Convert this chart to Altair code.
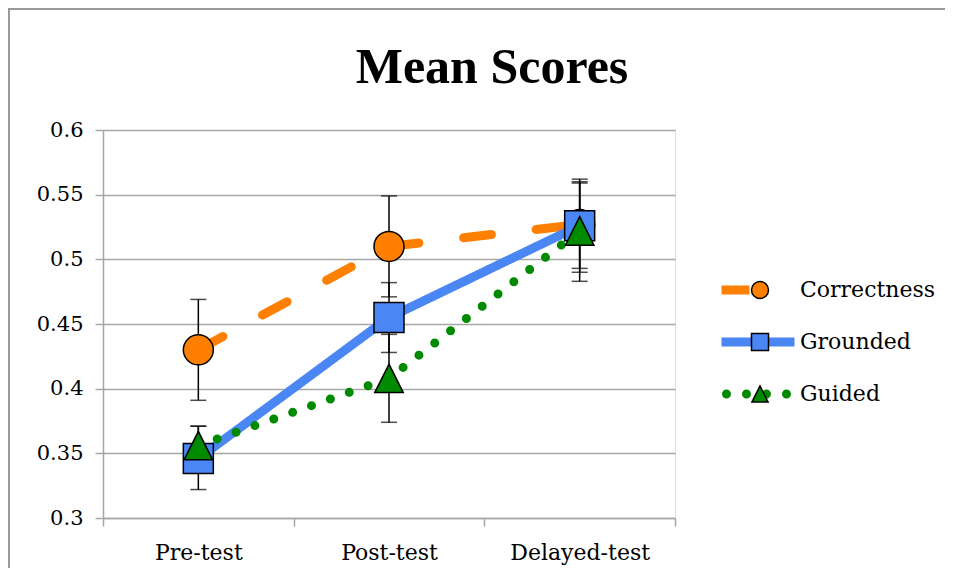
import altair as alt
import pandas as pd

tests = ["Pre-test", "Post-test", "Delayed-test"]
series = ["Correctness", "Grounded", "Guided"]
marker_keys = ["Correctness marker", "Grounded marker", "Guided marker"]
dot_keys = ["Guided dots"]
colors = ["#FF7F00", "#4A86F4", "#008A00"]
TRIANGLE = "M0,-0.95L0.95,0.95L-0.95,0.95Z"
shapes = ["circle", "square", TRIANGLE]
dashes = [[28, 45], [1, 0], [0, 20]]

correctness = [0.430, 0.510, 0.527]
grounded = [0.346, 0.455, 0.526]
guided = [0.356, 0.408, 0.522]

correctness_lo = [0.391, 0.471, 0.493]
correctness_hi = [0.469, 0.549, 0.560]
grounded_lo = [0.322, 0.428, 0.490]
grounded_hi = [0.371, 0.482, 0.562]
guided_lo = [0.341, 0.374, 0.483]
guided_hi = [0.371, 0.442, 0.559]

y_ticks = [0.3, 0.35, 0.4, 0.45, 0.5, 0.55, 0.6]

rows = []
for s, m, vals, lo, hi in [
    ("Correctness", marker_keys[0], correctness, correctness_lo, correctness_hi),
    ("Grounded", marker_keys[1], grounded, grounded_lo, grounded_hi),
    ("Guided", marker_keys[2], guided, guided_lo, guided_hi),
]:
    for t, v, l, h in zip(tests, vals, lo, hi):
        rows.append({"test": t, "series": s, "marker": m, "dots": dot_keys[0],
                     "value": v, "lo": l, "hi": h})
df = pd.DataFrame(rows)

FONT = "DejaVu Serif"
GRAY = "#A6A6A6"

# legend symbol for the dotted line: four round dots in a row
R = 0.1275
DOTS_PATH = " ".join(
    f"M{c + R:.4f},0A{R},{R},0,1,0,{c - R:.4f},0A{R},{R},0,1,0,{c + R:.4f},0Z"
    for c in (-0.85, -0.2833, 0.2833, 0.85)
)

x_enc = alt.X("test:N", sort=tests, scale=alt.Scale(paddingInner=0, paddingOuter=0),
              axis=alt.Axis(title=None, labelAngle=0, tickBand="extent", grid=False,
                            labelFont=FONT, labelFontSize=22, labelColor="black",
                            labelPadding=16, tickSize=8, tickColor=GRAY, tickWidth=1.5,
                            domainColor=GRAY, domainWidth=1.5))
y_scale = alt.Scale(domain=[0.3, 0.6], nice=False, zero=False)
y_axis = alt.Axis(title=None, values=y_ticks, format="~g", grid=True, gridColor=GRAY,
                  gridWidth=1.5, labelFont=FONT, labelFontSize=21, labelColor="black",
                  labelPadding=12, tickSize=8, tickColor=GRAY, tickWidth=1.5,
                  domainColor=GRAY, domainWidth=1.5)

base = alt.Chart(df)
one_row = base.transform_filter("datum.test == 'Pre-test' && datum.series == 'Correctness'")

# decorative outer frame (left and top edges) drawn as thin filled bars
frame_left = one_row.mark_rect(color="#9A9A9A", strokeWidth=0, clip=False).encode(
    x=alt.value(-95), x2=alt.value(-93), y=alt.value(-122), y2=alt.value(470))
frame_top = one_row.mark_rect(color="#9A9A9A", strokeWidth=0, clip=False).encode(
    x=alt.value(-95), x2=alt.value(842), y=alt.value(-122), y2=alt.value(-120))

err = base.mark_rule(color="black", strokeWidth=1.5).encode(
    x=x_enc, y=alt.Y("lo:Q", scale=y_scale, axis=y_axis), y2="hi:Q")
cap_lo = base.mark_tick(color="black", thickness=1.5, size=16).encode(x=x_enc, y=alt.Y("lo:Q", scale=y_scale))
cap_hi = base.mark_tick(color="black", thickness=1.5, size=16).encode(x=x_enc, y=alt.Y("hi:Q", scale=y_scale))

lines = base.mark_line(strokeWidth=9, strokeCap="round").encode(
    x=x_enc,
    y=alt.Y("value:Q", scale=y_scale),
    color=alt.Color("series:N", scale=alt.Scale(domain=series, range=colors),
                    legend=alt.Legend(title=None, orient="none", legendX=614, legendY=134,
                                      symbolType="stroke", symbolSize=5329, symbolStrokeWidth=9,
                                      clipHeight=52, rowPadding=0, padding=0, labelOffset=1,
                                      labelFont=FONT, labelFontSize=22, labelColor="black",
                                      zindex=0)),
    strokeDash=alt.StrokeDash("series:N", scale=alt.Scale(domain=series, range=dashes)),
    detail="series:N",
)

dots_key = base.transform_filter("datum.series == 'Guided' && datum.test == 'Pre-test'").mark_point(
    filled=True, size=0, strokeWidth=0, fill=colors[2], opacity=1
).encode(
    x=x_enc,
    y=alt.Y("value:Q", scale=y_scale),
    stroke=alt.Stroke("dots:N", scale=alt.Scale(domain=dot_keys, range=[colors[2]]),
                      legend=alt.Legend(title=None, orient="none", legendX=618, legendY=238,
                                        symbolType=DOTS_PATH, symbolSize=4984,
                                        symbolFillColor=colors[2], symbolStrokeWidth=0,
                                        symbolOpacity=1, clipHeight=52, padding=0,
                                        labelExpr="''", labelFontSize=22, zindex=1)),
)

points = base.mark_point(filled=True, size=900, stroke="black", strokeWidth=1.5, opacity=1).encode(
    x=x_enc,
    y=alt.Y("value:Q", scale=y_scale),
    fill=alt.Fill("marker:N", scale=alt.Scale(domain=marker_keys, range=colors),
                  legend=alt.Legend(title=None, orient="none", legendX=646, legendY=134,
                                    symbolSize=289, symbolStrokeColor="black", symbolStrokeWidth=1.5,
                                    symbolOpacity=1, clipHeight=52, rowPadding=0, padding=0,
                                    labelExpr="''", labelFontSize=22, zindex=2)),
    shape=alt.Shape("marker:N", scale=alt.Scale(domain=marker_keys, range=shapes)),
    order=alt.Order("marker:N"),
)

chart = alt.layer(frame_left, frame_top, err, cap_lo, cap_hi, lines, dots_key, points).properties(
    width=572, height=388,
    autosize=alt.AutoSizeParams(type="none"),
    padding={"left": 95, "top": 122, "right": 278, "bottom": 50},
    title=alt.TitleParams("Mean Scores", font="Liberation Serif", fontSize=50, fontWeight="bold",
                          color="black", anchor="middle", dx=103, offset=0, dy=125,
                          baseline="alphabetic", frame="group"),
).configure_view(stroke=None).configure(background="white")

chart.save("out.html", embed_options={"renderer": "svg", "actions": False})
